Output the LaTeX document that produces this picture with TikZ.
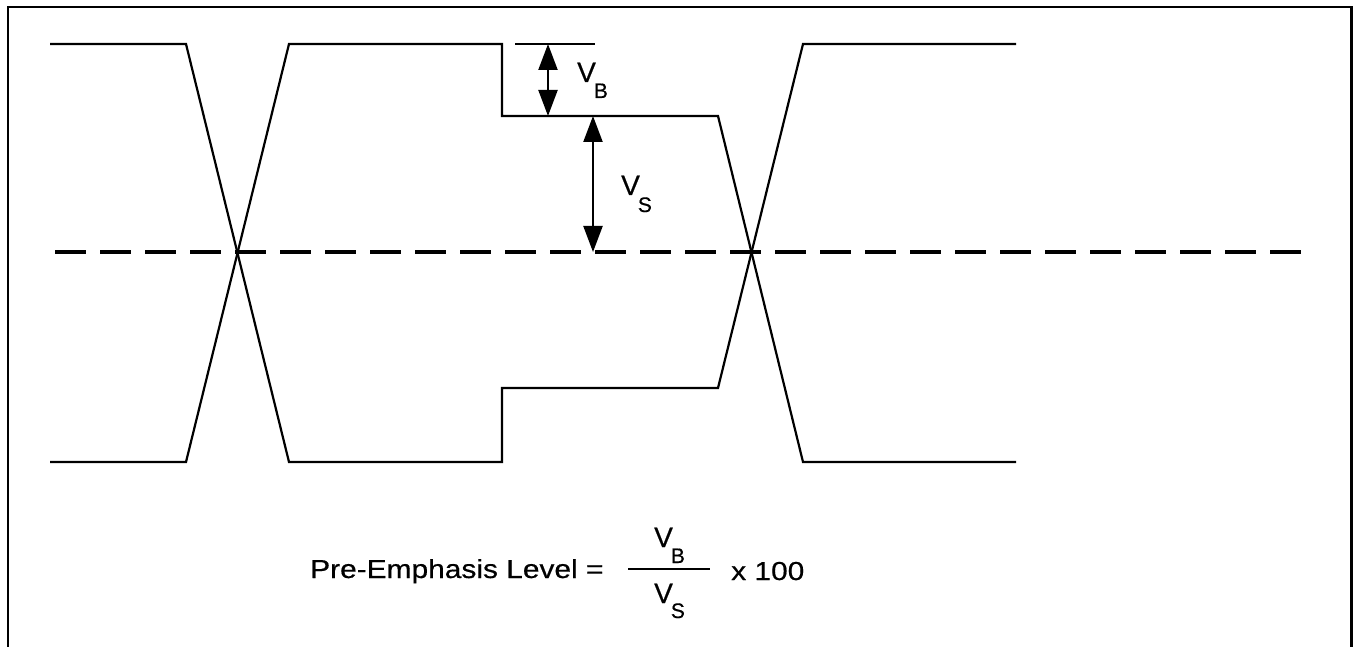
\documentclass[tikz,border=0pt]{standalone}
\usepackage{fontspec}
\setmainfont{Liberation Sans}[FakeBold=0.5]
\usetikzlibrary{arrows.meta}
\newcommand{\subf}{\fontsize{21}{21}\selectfont}
\begin{document}
\begin{tikzpicture}[x=1pt,y=-1pt,
  wave/.style={line width=2.2pt, line join=miter},
  frameline/.style={line width=2.2pt},
  midline/.style={line width=4pt, dash pattern=on 31pt off 14pt},
  dimarrow/.style={line width=2.2pt, {Triangle[width=19pt,length=26pt]}-{Triangle[width=19pt,length=26pt]}},
  lbl/.style={inner sep=0pt, anchor=base west, font=\fontsize{28}{32}\selectfont},
  eqtext/.style={inner sep=0pt, anchor=base west, font=\fontsize{26}{30}\selectfont, xscale=1.15}]
\useasboundingbox (0,0) rectangle (1353,647);
% frame
\coordinate (f1) at (8,647);
\coordinate (f2) at (8,7);
\coordinate (f3) at (1351.5,7);
\coordinate (f4) at (1351.5,647);
\draw[frameline] (f1) -- (f2) -- (f3) -- (f4);
% waveform A
\coordinate (a1) at (50,44);
\coordinate (a2) at (186,44);
\coordinate (a3) at (289,462);
\coordinate (a4) at (502,462);
\coordinate (a5) at (502,388);
\coordinate (a6) at (718,388);
\coordinate (a7) at (803,44);
\coordinate (a8) at (1016,44);
\draw[wave] (a1) -- (a2) -- (a3) -- (a4) -- (a5) -- (a6) -- (a7) -- (a8);
% waveform B
\coordinate (b1) at (50,462);
\coordinate (b2) at (186,462);
\coordinate (b3) at (289,44);
\coordinate (b4) at (502,44);
\coordinate (b5) at (502,116);
\coordinate (b6) at (718,116);
\coordinate (b7) at (803,462);
\coordinate (b8) at (1016,462);
\draw[wave] (b1) -- (b2) -- (b3) -- (b4) -- (b5) -- (b6) -- (b7) -- (b8);
% reference line for VB
\coordinate (c1) at (515,44);
\coordinate (c2) at (595,44);
\draw[wave] (c1) -- (c2);
% dashed midline
\coordinate (d1) at (55,252);
\coordinate (d2) at (1305,252);
\draw[midline] (d1) -- (d2);
% dimension arrows
\coordinate (vbt) at (548,44);
\coordinate (vbb) at (548,116);
\draw[dimarrow] (vbt) -- (vbb);
\coordinate (vst) at (593,116);
\coordinate (vsb) at (593,252);
\draw[dimarrow] (vst) -- (vsb);
% labels
\node[lbl] (labB) at (577,82) {V\kern-2pt\raisebox{-16pt}{\subf B}};
\node[lbl] (labS) at (621,195) {V\kern-2pt\raisebox{-17pt}{\subf S}};
% formula
\node[eqtext] (eq) at (310,578) {Pre-Emphasis Level =};
\node[lbl] (num) at (654,547) {V\kern-2pt\raisebox{-16pt}{\subf B}};
\coordinate (fb1) at (628,569);
\coordinate (fb2) at (710,569);
\draw[line width=1.8pt] (fb1) -- (fb2);
\node[lbl] (den) at (654,603) {V\kern-2pt\raisebox{-15pt}{\subf S}};
\node[eqtext] (times) at (731,580) {x 100};
\end{tikzpicture}
\end{document}
